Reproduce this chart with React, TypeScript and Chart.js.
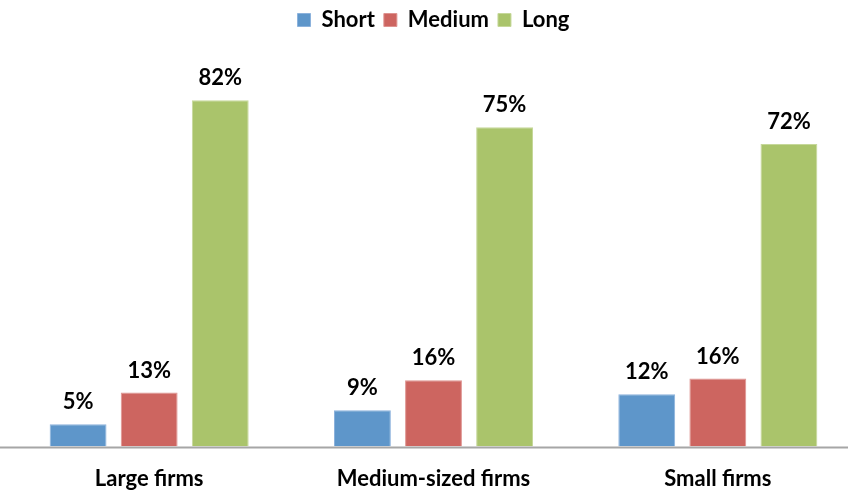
import React, { useEffect, useRef } from "react";
import { Chart, registerables } from "chart.js";

Chart.register(...registerables);

const categories = ["Large firms", "Medium-sized firms", "Small firms"];
const seriesNames = ["Short", "Medium", "Long"];
const shortValues = [5.3, 8.6, 12.4];
const mediumValues = [12.8, 15.7, 16.1];
const longValues = [82, 75.6, 71.6];
const shortLabels = ["5%", "9%", "12%"];
const mediumLabels = ["13%", "16%", "16%"];
const longLabels = ["82%", "75%", "72%"];

const FONT = "Lato, 'Open Sans', sans-serif";

export default function App() {
  const ref = useRef<HTMLCanvasElement | null>(null);
  useEffect(() => {
    if (!ref.current) return;
    const labelSets = [shortLabels, mediumLabels, longLabels];
    const valueLabels = {
      id: "valueLabels",
      afterDatasetsDraw(chart: any) {
        const ctx = chart.ctx;
        ctx.save();
        ctx.font = `bold 22px ${FONT}`;
        ctx.fillStyle = "#000";
        ctx.textAlign = "center";
        ctx.textBaseline = "alphabetic";
        chart.data.datasets.forEach((ds: any, di: number) => {
          const meta = chart.getDatasetMeta(di);
          meta.data.forEach((bar: any, i: number) => {
            ctx.fillText(labelSets[di][i], bar.x, bar.y - 15);
          });
        });
        ctx.restore();
      },
    };
    const axisLine = {
      id: "axisLine",
      afterDatasetsDraw(chart: any) {
        const ctx = chart.ctx;
        const y = chart.scales.y.getPixelForValue(0) + 1;
        ctx.save();
        ctx.strokeStyle = "#A6A6A6";
        ctx.lineWidth = 2;
        ctx.beginPath();
        ctx.moveTo(0, y);
        ctx.lineTo(chart.width, y);
        ctx.stroke();
        ctx.restore();
      },
    };
    const chart = new Chart(ref.current, {
      type: "bar",
      data: {
        labels: categories,
        datasets: [
          { label: seriesNames[0], data: shortValues, backgroundColor: "#5E96CA", borderColor: "#8CB2DC", borderWidth: 1 },
          { label: seriesNames[1], data: mediumValues, backgroundColor: "#CD6560", borderColor: "#DE9390", borderWidth: 1 },
          { label: seriesNames[2], data: longValues, backgroundColor: "#AAC46B", borderColor: "#C6D89A", borderWidth: 1 },
        ],
      },
      options: {
        animation: false,
        responsive: true,
        maintainAspectRatio: false,
        layout: { padding: { left: 7, right: 2, top: 0, bottom: 0 } },
        datasets: { bar: { categoryPercentage: 0.75, barPercentage: 0.8 } },
        plugins: {
          legend: {
            position: "top",
            labels: {
              boxWidth: 13,
              boxHeight: 13,
              padding: 9,
              color: "#000",
              font: { family: FONT, size: 22, weight: "bold" },
            },
          },
          tooltip: { enabled: false },
        },
        scales: {
          x: {
            grid: { display: false, drawTicks: false },
            border: { display: false },
            ticks: { padding: 19, color: "#000", font: { family: FONT, size: 22, weight: "bold" } },
          },
          y: {
            display: false,
            min: 0,
            max: 96,
          },
        },
      },
      plugins: [valueLabels, axisLine],
    });
    return () => chart.destroy();
  }, []);
  return (
    <div style={{ position: "fixed", left: 0, top: 0, width: 848, height: 498, overflow: "hidden", background: "#fff" }}>
      <div style={{ position: "absolute", left: 0, top: 0, width: 862, height: 511 }}>
        <canvas ref={ref} />
      </div>
    </div>
  );
}
